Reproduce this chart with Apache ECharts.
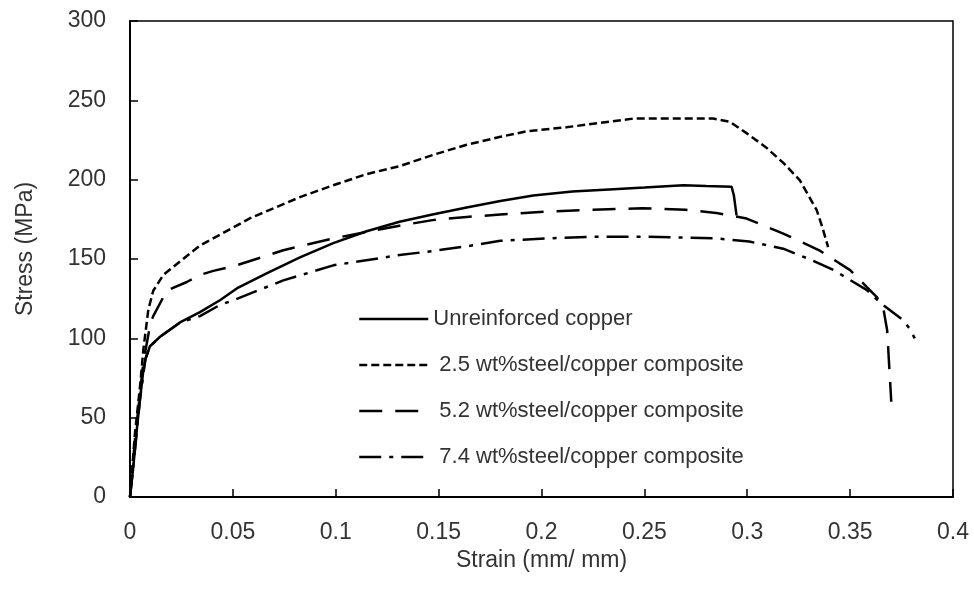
<!DOCTYPE html>
<html>
<head>
<meta charset="utf-8">
<script src="https://cdn.jsdelivr.net/npm/echarts@6/dist/echarts.min.js"></script>
<style>
  html, body { margin: 0; padding: 0; background: #fff; }
  #chart { width: 974px; height: 590px; }
</style>
</head>
<body>
<div id="chart"></div>
<script>
// [strain (mm/mm), stress (MPa)]
const seriesNames = [
  'Unreinforced copper',
  '2.5 wt%steel/copper composite',
  '5.2 wt%steel/copper composite',
  '7.4 wt%steel/copper composite'
]

const copperData = [
  [0, 0], [0.0016, 19], [0.0035, 45], [0.0049, 62], [0.0065, 80], [0.0075, 87],
  [0.0097, 95], [0.0146, 101], [0.0243, 110], [0.034, 116.5], [0.0437, 124],
  [0.0526, 132], [0.0664, 141], [0.0826, 151], [0.0988, 160], [0.115, 167.5],
  [0.131, 173.5], [0.147, 178], [0.1636, 182.5], [0.18, 186.5], [0.196, 190],
  [0.215, 192.5], [0.235, 194], [0.25, 195], [0.269, 196.5], [0.28, 196],
  [0.2924, 195.5], [0.2935, 190], [0.2948, 177.5]
]

const steel25Data = [
  [0, 0], [0.0024, 40], [0.0049, 70], [0.0065, 93], [0.0089, 118], [0.0113, 130],
  [0.0162, 140], [0.0243, 148.5], [0.034, 158.5], [0.0518, 171], [0.058, 175.5],
  [0.0826, 189], [0.0988, 196.5], [0.115, 203.5], [0.131, 208.5], [0.147, 215.5],
  [0.1636, 222], [0.18, 227], [0.1928, 230.5], [0.212, 233], [0.2445, 238.5],
  [0.2833, 238.5], [0.2915, 236.5], [0.3, 229], [0.309, 220.5], [0.318, 210],
  [0.3256, 199.5], [0.3337, 181], [0.3365, 170], [0.3393, 157.5]
]

const steel52Data = [
  [0, 0], [0.0024, 36], [0.0065, 85], [0.01, 110], [0.0113, 114], [0.0162, 126],
  [0.0178, 130], [0.0276, 135.5], [0.034, 140], [0.0405, 142.5], [0.0518, 146],
  [0.0745, 155.5], [0.0988, 163], [0.131, 171], [0.147, 174.5], [0.1636, 176.5],
  [0.18, 178], [0.204, 180], [0.225, 181], [0.249, 182], [0.27, 181], [0.285, 179],
  [0.2997, 175.5], [0.3175, 166], [0.335, 155.5], [0.35, 143], [0.358, 132.5],
  [0.363, 126], [0.366, 120], [0.368, 105], [0.37, 60]
]

const steel74Data = [
  [0, 0], [0.0016, 19], [0.0049, 62], [0.0075, 87], [0.0097, 95], [0.0146, 101],
  [0.0243, 110], [0.034, 114], [0.0437, 121], [0.0502, 124], [0.0745, 136.5],
  [0.0988, 146], [0.131, 152.5], [0.147, 155], [0.1636, 158], [0.18, 161.5],
  [0.204, 163], [0.225, 164], [0.25, 164], [0.27, 163.5], [0.285, 163], [0.301, 161],
  [0.3175, 156.5], [0.33, 150], [0.342, 143], [0.358, 130.5], [0.366, 121],
  [0.3757, 111.5], [0.379, 106], [0.3814, 100]
]

const font = 'Liberation Sans, Arial, sans-serif'

const myChart = echarts.init(document.getElementById('chart'))

function lineSeries(name, data, dash) {
  return {
    name: name,
    type: 'line',
    data: data,
    symbol: 'none',
    color: '#000',
    lineStyle: { width: 2.5, color: '#000', type: dash },
    animation: false
  }
}

const option = {
  animation: false,
  grid: {
    left: 130, right: 21, top: 21, bottom: 93,
    show: true, borderColor: '#000', borderWidth: 1.5
  },
  legend: {
    orient: 'vertical',
    left: 353,
    top: 302,
    itemWidth: 69,
    itemHeight: 14,
    itemGap: 22,
    itemStyle: { opacity: 0 },
    lineStyle: { width: 2.5 },
    formatter: (name) => name === seriesNames[0] ? name : ' ' + name,
    textStyle: { fontFamily: font, fontSize: 22, color: '#333', lineHeight: 24 },
    data: seriesNames
  },
  xAxis: {
    type: 'value',
    min: 0,
    max: 0.4,
    interval: 0.05,
    name: 'Strain (mm/ mm)',
    nameLocation: 'middle',
    nameGap: 40,
    nameTextStyle: { fontFamily: font, fontSize: 23, color: '#333' },
    axisLine: { lineStyle: { color: '#000', width: 2 } },
    axisTick: { inside: true, length: 8, lineStyle: { color: '#000', width: 1.5 } },
    axisLabel: { margin: 24, fontFamily: font, fontSize: 23, color: '#333' },
    splitLine: { show: false }
  },
  yAxis: {
    type: 'value',
    min: 0,
    max: 300,
    interval: 50,
    name: 'Stress (MPa)',
    nameLocation: 'middle',
    nameGap: 93,
    nameTextStyle: { fontFamily: font, fontSize: 23, color: '#333', padding: [0, 0, 0, 20] },
    axisLine: { show: true, lineStyle: { color: '#000', width: 2 } },
    axisTick: { show: true, inside: true, length: 8, lineStyle: { color: '#000', width: 1.5 } },
    axisLabel: { margin: 24, fontFamily: font, fontSize: 23, color: '#333' },
    splitLine: { show: false }
  },
  series: [
    lineSeries(seriesNames[0], copperData, 'solid'),
    lineSeries(seriesNames[1], steel25Data, [8, 4]),
    lineSeries(seriesNames[2], steel52Data, [23, 13]),
    lineSeries(seriesNames[3], steel74Data, [22, 8, 4, 8])
  ]
}

myChart.setOption(option)
</script>
</body>
</html>
